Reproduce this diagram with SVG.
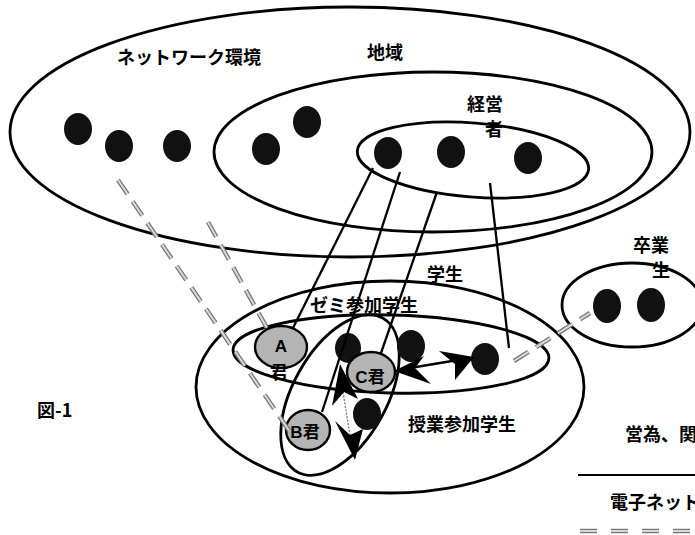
<svg xmlns="http://www.w3.org/2000/svg" width="695" height="535" viewBox="0 0 695 535">
  <style>
    .ring { fill: none; stroke: #000; stroke-width: 2.8; }
    .dot { fill: #111; }
    .person { fill: #b4b4b4; stroke: #000; stroke-width: 2.4; }
    .lbl { font-family: "Noto Sans CJK JP", "Noto Sans", sans-serif; font-weight: bold; font-size: 18px; fill: #000; }
    .plbl { font-family: "Liberation Sans", "Noto Sans CJK JP", sans-serif; font-weight: bold; font-size: 17px; fill: #000; }
    .link { stroke: #000; stroke-width: 2.3; fill: none; }
    .net-out { stroke: #777; stroke-width: 4.5; stroke-dasharray: 17 9; fill: none; }
    .net-in { stroke: #d8d8d8; stroke-width: 2; stroke-dasharray: 17 9; fill: none; }
    .legend { stroke-dasharray: 17 14; }
    .head { fill: #000; }
  </style>

  <rect width="695" height="535" fill="#fff"/>

  <!-- nested regions -->
  <g id="network">
    <ellipse class="ring" cx="350" cy="132" rx="340" ry="125"/>
    <text class="lbl" x="117" y="64">ネットワーク環境</text>
    <ellipse class="dot" cx="78" cy="129" rx="14" ry="16"/>
    <ellipse class="dot" cx="119" cy="146" rx="14" ry="16"/>
    <ellipse class="dot" cx="177" cy="146" rx="14" ry="16"/>
  </g>

  <g id="region">
    <ellipse class="ring" cx="433" cy="152" rx="219" ry="80"/>
    <text class="lbl" x="367" y="59">地域</text>
    <ellipse class="dot" cx="266" cy="149" rx="14" ry="16"/>
    <ellipse class="dot" cx="307" cy="122" rx="14" ry="16"/>
  </g>

  <g id="managers">
    <ellipse class="ring" cx="473" cy="160" rx="116" ry="37" transform="rotate(4.5 473 160)"/>
    <text class="lbl" x="467" y="111">経営</text>
    <text class="lbl" x="485" y="136">者</text>
    <ellipse class="dot" cx="388" cy="153" rx="14" ry="16"/>
    <ellipse class="dot" cx="451" cy="152" rx="14" ry="16"/>
    <ellipse class="dot" cx="528" cy="158" rx="14" ry="16"/>
  </g>

  <g id="students">
    <ellipse class="ring" cx="390" cy="387" rx="194" ry="106"/>
    <text class="lbl" x="427" y="281">学生</text>
  </g>

  <g id="seminar">
    <ellipse class="ring" cx="391" cy="354" rx="158" ry="39" transform="rotate(1.5 391 354)"/>
    <text class="lbl" x="310" y="312">ゼミ参加学生</text>
  </g>

  <g id="class-group">
    <ellipse class="ring" cx="340" cy="395" rx="88" ry="47" transform="rotate(-61 340 395)"/>
    <text class="lbl" x="408" y="431">授業参加学生</text>
  </g>

  <g id="graduates">
    <ellipse class="ring" cx="632" cy="305" rx="70" ry="42"/>
    <text class="lbl" x="633" y="252">卒業</text>
    <text class="lbl" x="652" y="277">生</text>
    <ellipse class="dot" cx="607" cy="306" rx="14" ry="17"/>
    <ellipse class="dot" cx="651" cy="305" rx="14" ry="17"/>
  </g>

  <!-- individual students -->
  <g id="student-dots">
    <ellipse class="dot" cx="348" cy="348" rx="13" ry="15"/>
    <ellipse class="dot" cx="411" cy="346" rx="14" ry="16"/>
    <ellipse class="dot" cx="367" cy="414" rx="14" ry="16"/>
    <ellipse class="dot" cx="485" cy="359" rx="14" ry="16"/>
  </g>

  <g id="student-a">
    <ellipse class="person" cx="281" cy="347" rx="26" ry="21"/>
    <text class="plbl" x="281" y="352" text-anchor="middle">A</text>
    <text class="lbl" x="270" y="379" font-size="15px">君</text>
  </g>

  <g id="student-c">
    <ellipse class="person" cx="371" cy="372" rx="24" ry="20"/>
    <text class="plbl" x="370" y="383" text-anchor="middle">C君</text>
  </g>

  <g id="student-b">
    <ellipse class="person" cx="308" cy="430" rx="22" ry="20"/>
    <text class="plbl" x="305" y="438" text-anchor="middle">B君</text>
  </g>

  <!-- connectors -->
  <g id="connectors">
    <line class="link" x1="373" y1="168" x2="293" y2="328"/>
    <line class="link" x1="400" y1="172" x2="322" y2="412"/>
    <line class="link" x1="437" y1="192" x2="381" y2="353"/>
    <line class="link" x1="490" y1="183" x2="509" y2="348"/>

    <!-- electronic network links -->
    <line class="net-out" x1="118" y1="180" x2="290" y2="432"/>
    <line class="net-in" x1="118" y1="180" x2="290" y2="432"/>
    <line class="net-out" x1="208" y1="222" x2="268" y2="330"/>
    <line class="net-in" x1="208" y1="222" x2="268" y2="330"/>
    <line class="net-out" x1="514" y1="361" x2="590" y2="313"/>
    <line class="net-in" x1="514" y1="361" x2="590" y2="313"/>

    <!-- interaction C <-> student -->
    <line class="link" x1="410" y1="368" x2="458" y2="360" stroke-width="2.6"/>
    <polygon class="head" points="394,371 424,356 415,368 431,384"/>
    <polygon class="head" points="474,357 439,351 455,364 455,380"/>

    <!-- interaction C <-> B -->
    <line x1="343" y1="392" x2="350" y2="435" stroke="#777" stroke-width="1.3" stroke-dasharray="2 1.5"/>
    <polygon class="head" points="340,364 358,399 344,392 332,406"/>
    <polygon class="head" points="355,460 335,421 350,435 363,429"/>
  </g>

  <!-- caption and legend -->
  <g id="caption">
    <text class="lbl" x="37" y="417">図-1</text>
    <text class="lbl" x="625" y="441">営為、関</text>
    <line x1="578" y1="475" x2="695" y2="475" stroke="#000" stroke-width="2.2"/>
    <text class="lbl" x="610" y="509">電子ネット</text>
    <line class="net-out legend" x1="580" y1="531" x2="695" y2="531"/>
    <line class="net-in legend" x1="580" y1="531" x2="695" y2="531"/>
  </g>
</svg>
